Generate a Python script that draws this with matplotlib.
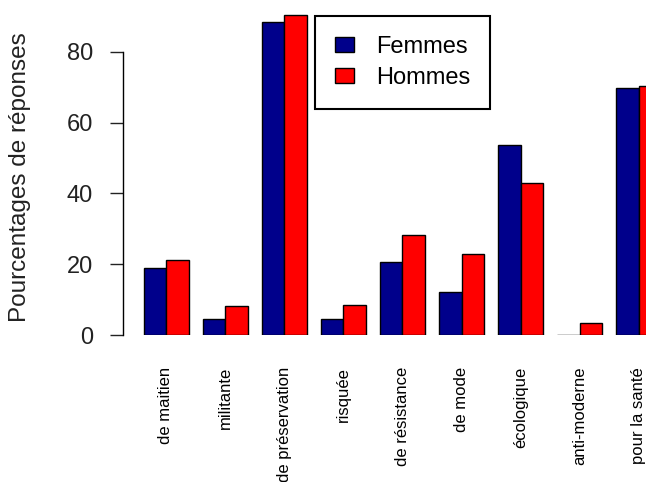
import numpy as np
import matplotlib.pyplot as plt
from matplotlib.patches import Patch

plt.rcParams['font.family'] = ['Liberation Sans', 'DejaVu Sans']

# DATA
categories = ["de maitien", "militante", "de préservation", "risquée", "de résistance",
              "de mode", "écologique", "anti-moderne", "pour la santé"]
femmes = [19.0, 4.4, 88.5, 4.4, 20.7, 12.1, 53.6, 0.0, 69.7]
hommes = [21.2, 8.2, 90.3, 8.5, 28.2, 22.8, 43.0, 3.3, 70.4]
series_names = ["Femmes", "Hommes"]
yticks = [0, 20, 40, 60, 80]

W, H = 646, 482
fig = plt.figure(figsize=(W / 100, H / 100), dpi=100)
# axes in pixel terms: y axis line at x=123, zero line at y=335
ax = fig.add_axes([123 / W, (H - 335) / H, (W - 123) / W, 335 / H])

x = np.arange(len(categories))
bw = 22.5 / 59.1
ax.bar(x - bw / 2, femmes, bw, color="#00008B", edgecolor="black", linewidth=1.0, clip_on=True)
ax.bar(x + bw / 2, hommes, bw, color="#FF0000", edgecolor="black", linewidth=1.0, clip_on=True)

ax.set_xlim((123 - 166) / 59.1, (646 - 166) / 59.1)
ax.set_ylim(0, 335 / 3.54)

for s in ['top', 'right', 'bottom']:
    ax.spines[s].set_visible(False)
ax.spines['left'].set_bounds(0, 80)
ax.spines['left'].set_linewidth(1.0)
ax.set_yticks(yticks)
ax.tick_params(axis='y', length=9.5, width=1.0, pad=12, labelsize=17, colors='#222222')
ax.tick_params(axis='x', length=0, pad=23)
ax.set_xticks(x)
ax.set_xticklabels(categories, rotation=90, fontsize=12, va='top', ha='center')

fig.text(20 / W, 1 - 177 / H, "Pourcentages de réponses", rotation=90,
         ha='center', va='center', fontsize=17.5, color='#222222')

handles = [Patch(facecolor="#00008B", edgecolor="black"),
           Patch(facecolor="#FF0000", edgecolor="black")]
leg = ax.legend(handles, series_names, loc='upper left',
                bbox_to_anchor=(315 / W, 1 - 15.7 / H), bbox_transform=fig.transFigure,
                borderaxespad=0, fontsize=17, handlelength=0.79, handleheight=0.62,
                handletextpad=0.95, borderpad=0.85, labelspacing=0.38,
                fancybox=False, framealpha=1, edgecolor='black')
leg.get_frame().set_linewidth(1.5)

fig.savefig("out.png", dpi=100)
